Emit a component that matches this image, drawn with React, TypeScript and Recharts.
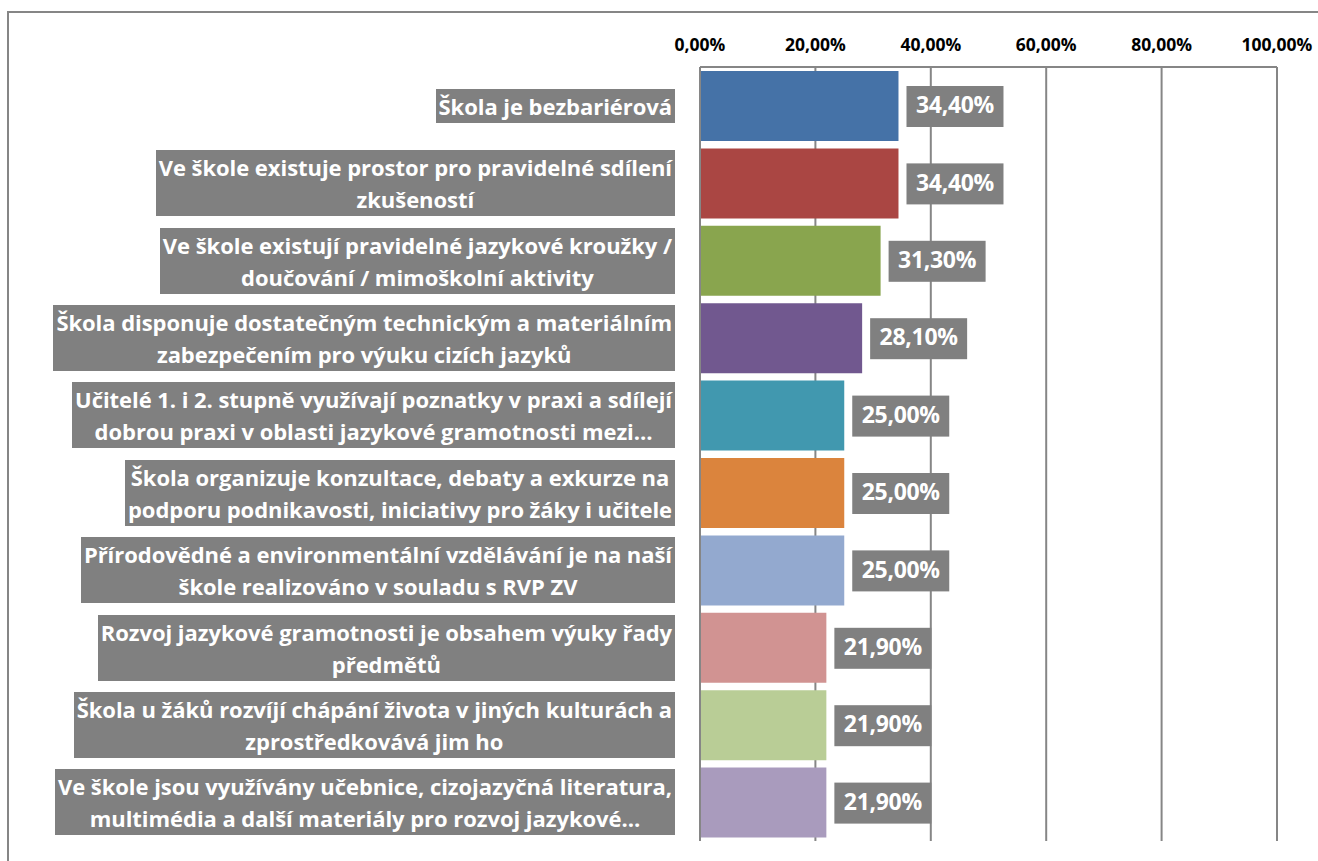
import React from "react";
import { BarChart, Bar, XAxis, YAxis, CartesianGrid, Cell, LabelList } from "recharts";

const categories = [
  "Škola je bezbariérová",
  "Ve škole existuje prostor pro pravidelné sdílení\nzkušeností",
  "Ve škole existují pravidelné jazykové kroužky /\ndoučování / mimoškolní aktivity",
  "Škola disponuje dostatečným technickým a materiálním\nzabezpečením pro výuku cizích jazyků",
  "Učitelé 1. i 2. stupně využívají poznatky v praxi a sdílejí\ndobrou praxi v oblasti jazykové gramotnosti mezi…",
  "Škola organizuje konzultace, debaty a exkurze na\npodporu podnikavosti, iniciativy pro žáky i učitele",
  "Přírodovědné a environmentální vzdělávání je na naší\nškole realizováno v souladu s RVP ZV",
  "Rozvoj jazykové gramotnosti je obsahem výuky řady\npředmětů",
  "Škola u žáků rozvíjí chápání života v jiných kulturách a\nzprostředkovává jim ho",
  "Ve škole jsou využívány učebnice, cizojazyčná literatura,\nmultimédia a další materiály pro rozvoj jazykové…",
];

const shares = [0.344, 0.344, 0.313, 0.281, 0.25, 0.25, 0.25, 0.219, 0.219, 0.219];

const barColors = [
  "#4572A7",
  "#AA4643",
  "#89A54E",
  "#71588F",
  "#4198AF",
  "#DB843D",
  "#93A9CF",
  "#D19392",
  "#B9CD96",
  "#A99BBD",
];

const axisTicks = [0, 0.2, 0.4, 0.6, 0.8, 1];

const data = categories.map((name, i) => ({ name, value: shares[i] }));

const FONT = "'Open Sans', Lato, sans-serif";
const GRAY = "#808080";

const pct = (v: number) => (v * 100).toFixed(2).replace(".", ",") + "%";

function CategoryTick(props: any) {
  const { x, y, payload } = props;
  return (
    <foreignObject x={x - 680} y={y - 40} width={680} height={80}>
      <div
        style={{
          display: "flex",
          justifyContent: "flex-end",
          alignItems: "center",
          height: "100%",
        }}
      >
        <div
          style={{
            background: GRAY,
            color: "#fff",
            fontFamily: FONT,
            fontWeight: 700,
            fontSize: 22,
            letterSpacing: -0.05,
            lineHeight: "32px",
            padding: "1px 3px",
            textAlign: "center",
            whiteSpace: "pre",
          }}
        >
          {payload.value}
        </div>
      </div>
    </foreignObject>
  );
}

function ValueLabel(props: any) {
  const { x, y, width, height, value } = props;
  const bx = x + width + 8;
  const cy = y + height / 2;
  return (
    <g>
      <rect x={bx} y={cy - 20} width={97} height={41} fill={GRAY} />
      <text
        x={bx + 48.5}
        y={cy + 1}
        fill="#fff"
        fontFamily={FONT}
        fontWeight={700}
        fontSize={23}
        letterSpacing={-0.3}
        textAnchor="middle"
        dominantBaseline="middle"
      >
        {pct(value)}
      </text>
    </g>
  );
}

export default function App() {
  return (
    <div style={{ position: "absolute", left: 0, top: 0, width: 1318, height: 861, overflow: "hidden", background: "#fff" }}>
      <div
        style={{
          position: "absolute",
          left: 7,
          top: 11,
          width: 1400,
          height: 1000,
          border: "2px solid #868686",
        }}
      />
      <div style={{ position: "absolute", left: 0, top: 0 }}>
        <BarChart
          width={1318}
          height={861}
          data={data}
          layout="vertical"
          margin={{ top: 20, right: 41, bottom: 20, left: 0 }}
        >
          <CartesianGrid horizontal={false} stroke="#868686" strokeWidth={2} />
          <XAxis
            type="number"
            orientation="top"
            domain={[0, 1]}
            ticks={axisTicks}
            tickFormatter={pct}
            height={47}
            tickLine={false}
            tickSize={0}
            tickMargin={16}
            axisLine={{ stroke: "#868686", strokeWidth: 2 }}
            tick={{ fill: "#000", fontFamily: FONT, fontWeight: 700, fontSize: 17.5 }}
          />
          <YAxis
            type="category"
            dataKey="name"
            width={700}
            tickLine={false}
            tickSize={0}
            tickMargin={25}
            axisLine={{ stroke: "#868686", strokeWidth: 2 }}
            tick={<CategoryTick />}
            interval={0}
          />
          <Bar dataKey="value" barSize={70} isAnimationActive={false}>
            {data.map((d, i) => (
              <Cell key={d.name} fill={barColors[i]} />
            ))}
            <LabelList dataKey="value" content={<ValueLabel />} />
          </Bar>
        </BarChart>
      </div>
    </div>
  );
}
